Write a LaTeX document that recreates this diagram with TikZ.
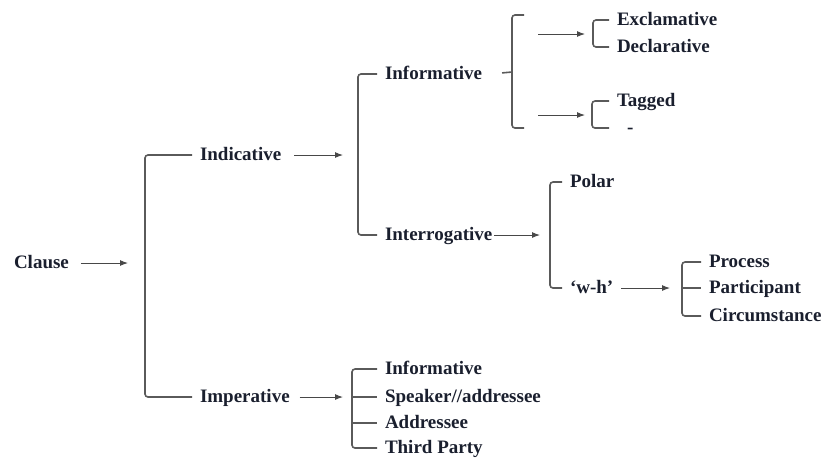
\documentclass[tikz,border=0pt]{standalone}
\usepackage{fontspec}
\setmainfont{Liberation Serif}
\usetikzlibrary{arrows.meta}
\definecolor{clLine}{HTML}{5A5A5A}
\definecolor{clText}{HTML}{1A1F2E}
\tikzset{
  term/.style={anchor=west, inner sep=0pt, outer xsep=4pt, text=clText,
               font=\fontsize{9.5}{11}\selectfont\bfseries,
               text height=1.5ex, text depth=0.3ex},
  brace/.style={draw=clLine, line width=0.8pt, rounded corners=1.5pt},
  flow/.style={-{Latex[length=4pt,width=3pt]}, draw=clLine!80!black, line width=0.5pt},
}

\begin{document}
\begin{tikzpicture}[x=0.5pt, y=-0.5pt]
  \useasboundingbox (0,0) rectangle (824,457);
  % first level
  \node[term] (clause) at (6,263) {Clause};
  \node[term] (indic) at (192,155) {Indicative};
  \node[term] (imper) at (192,397) {Imperative};
  % indicative
  \node[term] (inform) at (377,74) {Informative};
  \node[term] (interr) at (377,235) {Interrogative};
  % informative
  \node[term] (excl) at (609,20) {Exclamative};
  \node[term] (decl) at (609,47) {Declarative};
  \node[term] (tagged) at (609,101) {Tagged};
  \node[term] (untag) at (609,128) {\hspace{5pt}-};
  % interrogative
  \node[term] (polar) at (562,182) {Polar};
  \node[term] (wh) at (562,288) {`w-h'};
  \node[term] (proc) at (701,262) {Process};
  \node[term] (part) at (701,288) {Participant};
  \node[term] (circ) at (701,316) {Circumstance};
  % imperative
  \node[term] (iminf) at (377,369) {Informative};
  \node[term] (spkr) at (377,397) {Speaker//addressee};
  \node[term] (addr) at (377,423) {Addressee};
  \node[term] (third) at (377,448) {Third Party};

  % bracket spines
  \coordinate (sp1) at (145,263);
  \coordinate (sp2) at (358,155);
  \coordinate (sp3) at (512,72);
  \coordinate (sp3t) at (524,15);
  \coordinate (sp3b) at (524,128);
  \coordinate (sp4) at (593,34);
  \coordinate (sp5) at (592,115);
  \coordinate (sp6) at (550,235);
  \coordinate (sp7) at (682,288);
  \coordinate (sp8) at (352,397);

  % brackets
  \draw[brace] (indic.west) -| (sp1) |- (imper.west);
  \draw[brace] (inform.west) -| (sp2) |- (interr.west);
  \draw[brace] (sp3t) -| (sp3) |- (sp3b);
  \draw[brace, shorten <=6pt] (inform.east) -- (sp3);
  \draw[brace] (excl.west) -| (sp4) |- (decl.west);
  \draw[brace] (tagged.west) -| (sp5) |- (untag.west);
  \draw[brace] (polar.west) -| (sp6) |- (wh.west);
  \draw[brace] (proc.west) -| (sp7) |- (circ.west);
  \draw[brace] (sp7) -- (part.west);
  \draw[brace] (iminf.west) -| (sp8) |- (third.west);
  \draw[brace] (sp8) -- (spkr.west);
  \draw[brace] (addr.west -| sp8) -- (addr.west);

  % arrows
  \draw[flow, shorten <=2pt, shorten >=8.5pt] (clause.east) -- (sp1);
  \draw[flow, shorten <=2.5pt, shorten >=7.5pt] (indic.east) -- (sp2);
  \draw[flow, shorten <=13pt, shorten >=4pt] (sp3 |- sp4) -- (sp4);
  \draw[flow, shorten <=13pt, shorten >=3.5pt] (sp3 |- sp5) -- (sp5);
  \draw[flow, shorten <=-3pt, shorten >=5pt] (interr.east) -- (sp6);
  \draw[flow, shorten >=6pt] (wh.east) -- (sp7);
  \draw[flow, shorten <=1pt, shorten >=4.5pt] (imper.east) -- (sp8);
\end{tikzpicture}
\end{document}
